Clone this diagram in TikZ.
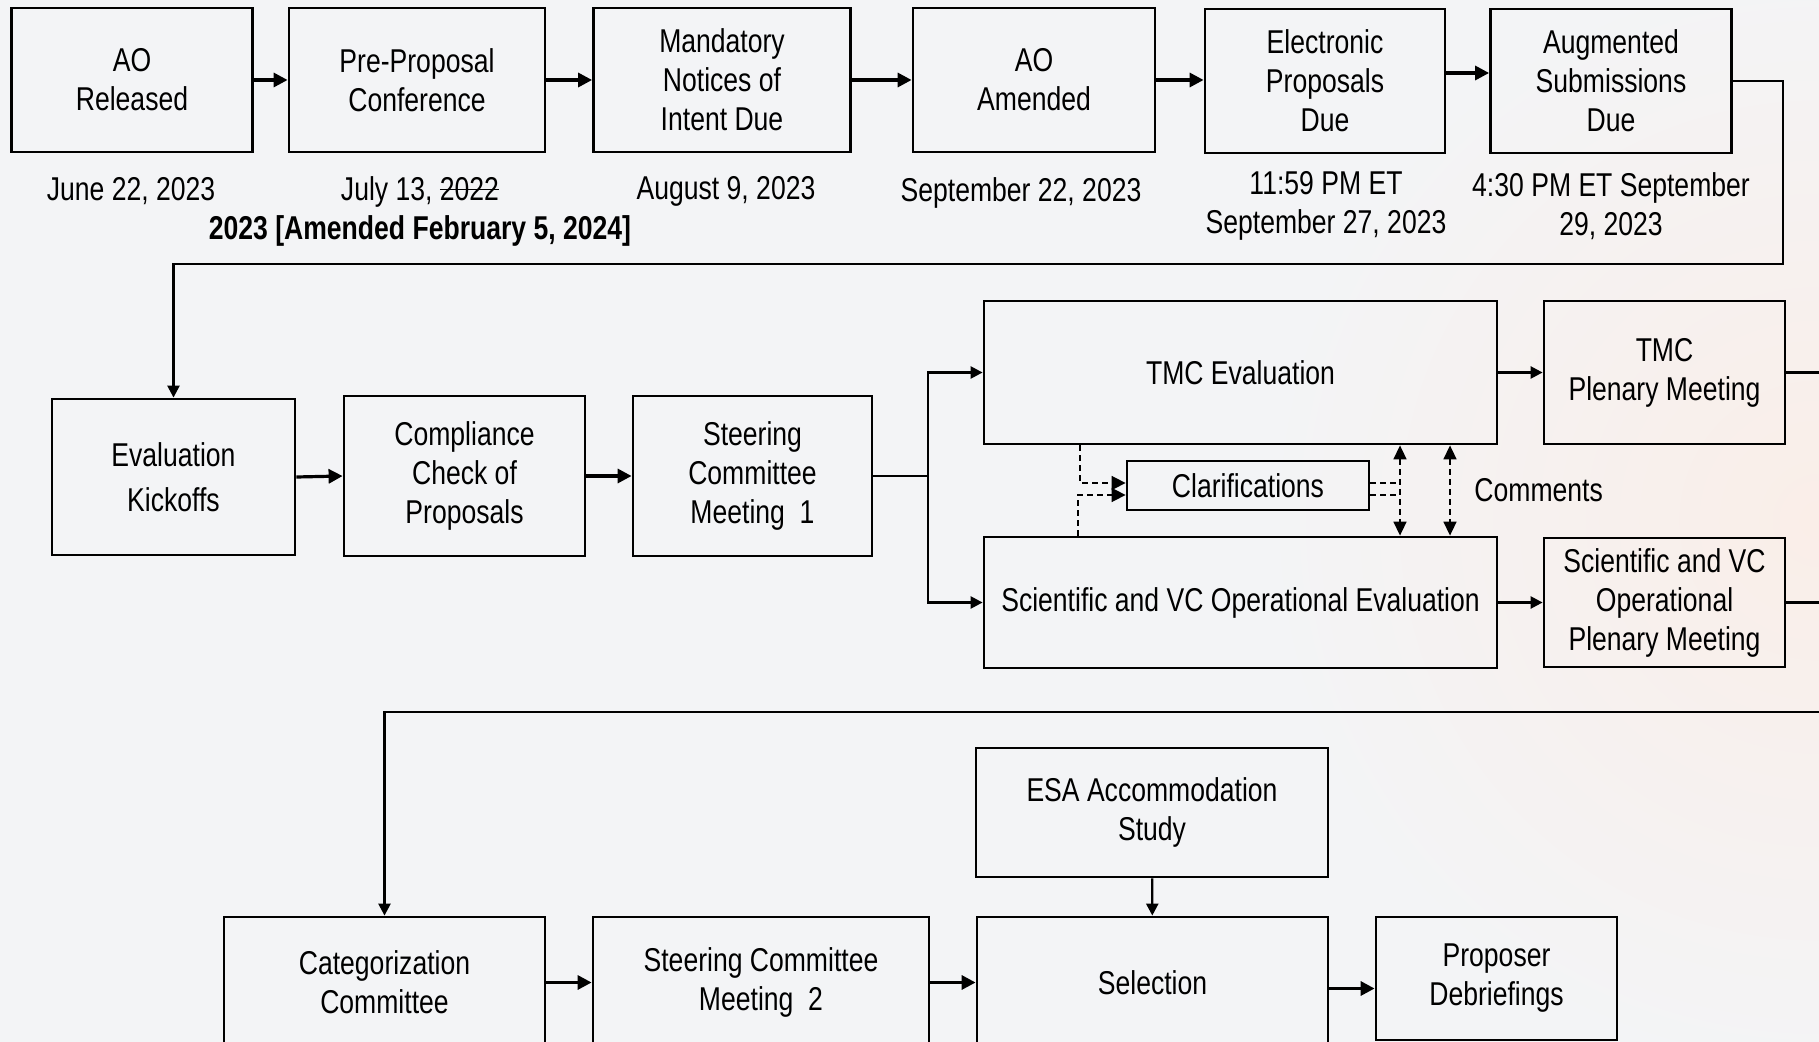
\documentclass[tikz,border=0pt]{standalone}
\usepackage{fontspec}
\setmainfont[FakeStretch=0.805]{Liberation Sans}
\usetikzlibrary{arrows.meta}
\definecolor{bgc}{RGB}{243,244,246}
\definecolor{glow}{RGB}{250,238,232}
\newcommand{\strk}[1]{\setbox0\hbox{#1}\rlap{\rule[0.3em]{\wd0}{0.7pt}}\box0}

\begin{document}
\begin{tikzpicture}[x=0.5pt,y=-0.5pt,font=\fontsize{16.5}{19.5}\selectfont]
        \tikzset{
            box/.style={draw, line width=1.4pt, inner sep=0pt, align=center},
            lbl/.style={align=center, inner sep=0pt},
            ln/.style={line width=1.2pt},
            arr/.style={line width=1.2pt, -{Triangle[length=6pt,width=6pt]}},
            thk/.style={line width=1.6pt, -{Triangle[length=7pt,width=7pt]}},
            dsh/.style={dash pattern=on 3pt off 2pt, line width=0.8pt},
            tip/.style={-{Triangle[length=7pt,width=7pt]}},
            dbl/.style={{Triangle[length=7pt,width=6.5pt]}-{Triangle[length=7pt,width=6.5pt]}}
            }

            \useasboundingbox (0,0) rectangle (1819,1042);
            \fill[bgc] (0,0) rectangle (1819,1042);
            \shade[inner color=glow, outer color=bgc] (1819,520) circle (560);
            \clip (0,0) rectangle (1819,1042);

            % announcement steps
            \node[box, minimum width=120.5pt, minimum height=72pt] (n1) at (132,80) {AO\\Released};
            \node[box, minimum width=128pt, minimum height=72pt] (n2) at (417,80) {Pre-Proposal\\Conference};
            \node[box, minimum width=128.5pt, minimum height=72pt] (n3) at (722,80) {Mandatory\\Notices of\\Intent Due};
            \node[box, minimum width=121pt, minimum height=72pt] (n4) at (1034,80) {AO\\Amended};
            \node[box, minimum width=120pt, minimum height=72pt] (n5) at (1325,81) {Electronic\\Proposals\\Due};
            \node[box, minimum width=120.5pt, minimum height=72pt] (n6) at (1611,81) {Augmented\\Submissions\\Due};

            \node[lbl] (t1) at (131,191) {June 22, 2023};
            \node[lbl] (t2) at (420,211) {July 13, \strk{2022}\\\textbf{2023 [Amended February 5, 2024]}};
            \node[lbl] (t3) at (726,191) {August 9, 2023};
            \node[lbl] (t4) at (1021,193) {September 22, 2023};
            \node[lbl] (t5) at (1326,206) {11:59 PM ET\\September 27, 2023};
            \node[lbl] (t6) at (1611,206) {4:30 PM ET September\\29, 2023};

            % evaluation
            \node[box, minimum width=121.5pt, minimum height=78pt] (n7) at (173.5,477) {Evaluation\\[3pt]Kickoffs};
            \node[box, minimum width=120.5pt, minimum height=80pt] (n8) at (464.5,476) {Compliance\\Check of\\Proposals};
            \node[box, minimum width=119.5pt, minimum height=80pt] (n9) at (752.5,476) {Steering\\Committee\\Meeting~~1};
            \node[box, minimum width=256.5pt, minimum height=71.5pt] (n10) at (1240.5,372.5) {TMC Evaluation};
            \node[box, minimum width=120.5pt, minimum height=71.5pt] (n11) at (1664.5,372.5) {TMC\\Plenary Meeting};
            \node[box, minimum width=121pt, minimum height=24.5pt] (n12) at (1248,485.5) {Clarifications};
            \node[box, minimum width=256.5pt, minimum height=65.5pt] (n13) at (1240.5,602.5) {Scientific and VC Operational Evaluation};
            \node[box, minimum width=120.5pt, minimum height=64.5pt] (n14) at (1664.5,602.5) {Scientific and VC\\Operational\\Plenary Meeting};
            \node[lbl, anchor=west] (cm) at (1474,490) {Comments};

            % selection
            \node[box, minimum width=160.5pt, minimum height=65.5pt] (n15) at (384.5,982.5) {Categorization\\Committee};
            \node[box, minimum width=168pt, minimum height=65.5pt] (n16) at (761,982.5) {Steering Committee\\Meeting~~2};
            \node[box, minimum width=175.5pt, minimum height=65.5pt] (n17) at (1152.5,982.5) {Selection};
            \node[box, minimum width=120.5pt, minimum height=61.5pt] (n18) at (1496.5,978.5) {Proposer\\Debriefings};
            \node[box, minimum width=176pt, minimum height=64.5pt] (n19) at (1152,812.5) {ESA Accommodation\\Study};

            \coordinate (k1) at (1783,264);
            \coordinate (s1) at (928,476);
            \coordinate (r1) at (1860,712);
            \coordinate (d1) at (1080,483);
            \coordinate (d2) at (1078,495);
            \coordinate (d3) at (1400,483);
            \coordinate (d4) at (1400,495);
            \coordinate (d5) at (1450,490);

            \draw[thk] (n1) -- (n2);
            \draw[thk] (n2) -- (n3);
            \draw[thk] (n3) -- (n4);
            \draw[thk] (n4.east) -- (n5.west |- n4.east);
            \draw[thk] ([yshift=4pt]n5.east) -- ([yshift=4pt]n6.west);
            \draw[arr] (n6.east) -| (k1) -| (n7.north);

            \draw[thk] (n7.east) -- (n8.west);
            \draw[thk] (n8) -- (n9);
            \draw[ln] (n9.east) -- (s1);
            \draw[arr] (s1) |- (n10.west);
            \draw[arr] (s1) |- (n13.west);
            \draw[arr] (n10) -- (n11);
            \draw[arr] (n13) -- (n14);
            \draw[dsh,tip] (n10.south -| d1) |- (d1 -| n12.west);
            \draw[dsh,tip] (n13.north -| d2) |- (d2 -| n12.west);
            \draw[dsh] (d3 -| n12.east) -- (d3);
            \draw[dsh] (d4 -| n12.east) -- (d4);
            \draw[dsh,dbl] (n10.south -| d3) -- (n13.north -| d3);
            \draw[dsh,dbl] (n10.south -| d5) -- (n13.north -| d5);

            \draw[ln] (n11.east) -| (r1);
            \draw[ln] (n14.east) -| (r1);
            \draw[arr] (r1) -| (n15.north);
            \draw[thk] (n15) -- (n16);
            \draw[thk] (n16) -- (n17);
            \draw[thk] ([yshift=-3pt]n17.east) -- ([yshift=-3pt]n17.east -| n18.west);
            \draw[arr] (n19) -- (n17);
        \end{tikzpicture}
\end{document}
